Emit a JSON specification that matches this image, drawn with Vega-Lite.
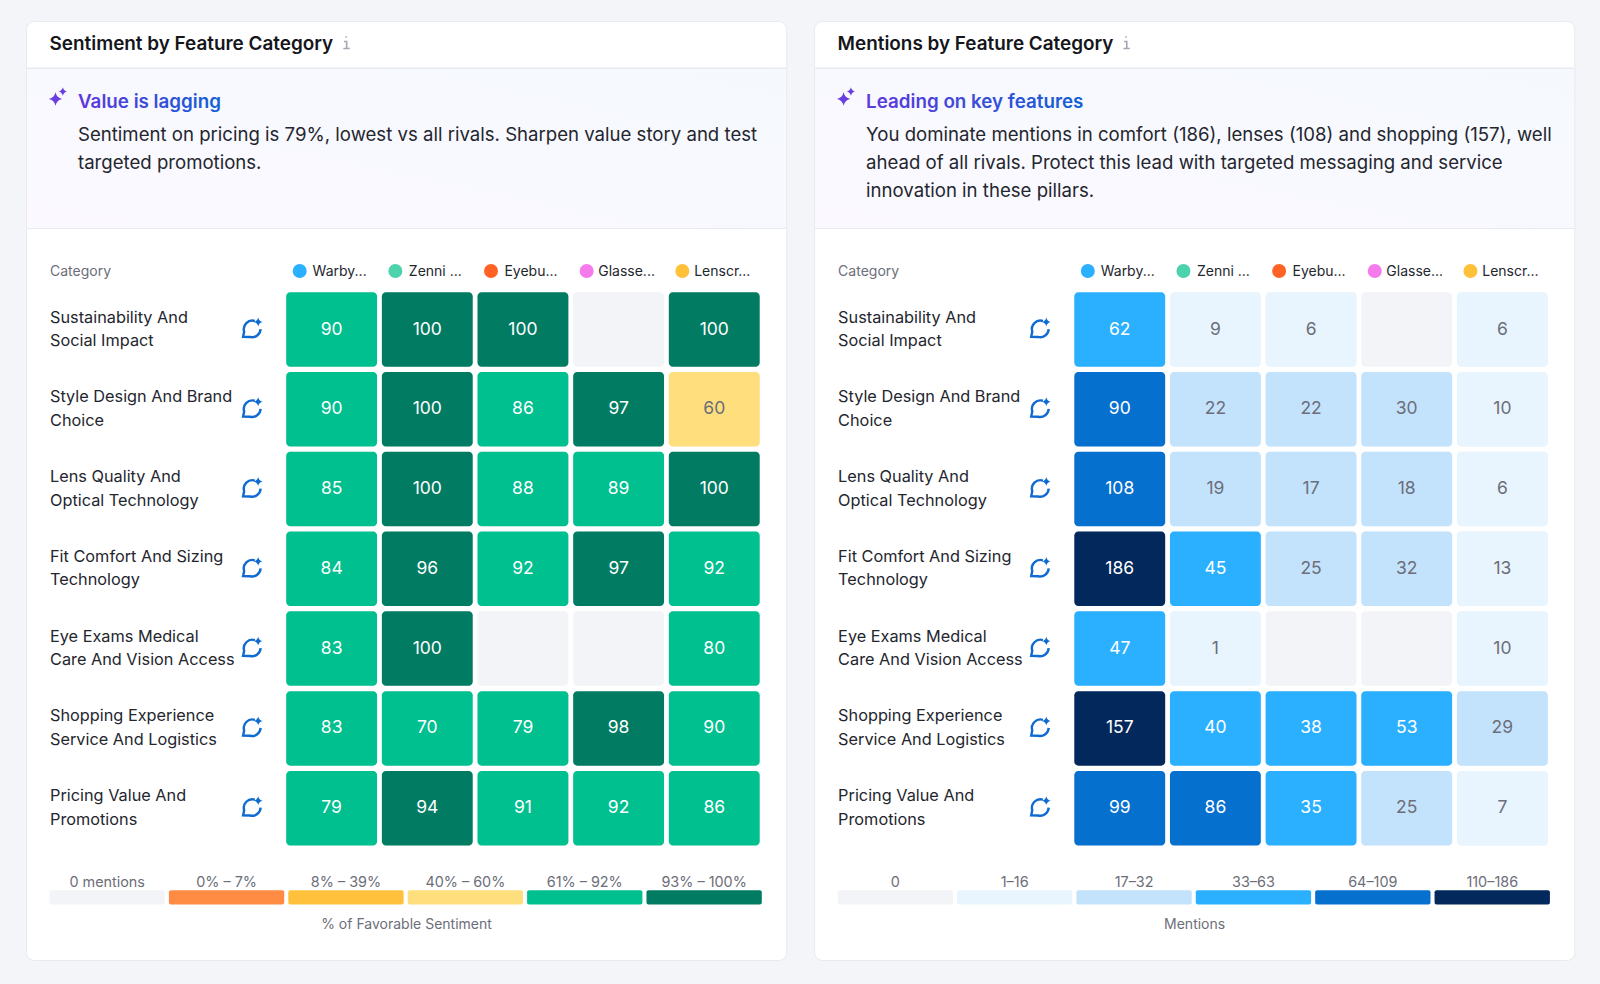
{
"$schema":"https://vega.github.io/schema/vega-lite/v6.json",
"background":"#f4f5f9",
"padding":{"left":25,"top":20,"right":27,"bottom":25},
"config":{"font":"Inter","view":{"stroke":null},"axis":{"labelFont":"Inter","titleFont":"Inter"}},
"datasets":{
"brands":[{"brand":"Warby..."},{"brand":"Zenni ..."},{"brand":"Eyebu..."},{"brand":"Glasse..."},{"brand":"Lenscr..."}],
"sent":[
{"category":"Sustainability And Social Impact","brand":"Warby...","value":90},{"category":"Sustainability And Social Impact","brand":"Zenni ...","value":100},{"category":"Sustainability And Social Impact","brand":"Eyebu...","value":100},{"category":"Sustainability And Social Impact","brand":"Glasse...","value":null},{"category":"Sustainability And Social Impact","brand":"Lenscr...","value":100},
{"category":"Style Design And Brand Choice","brand":"Warby...","value":90},{"category":"Style Design And Brand Choice","brand":"Zenni ...","value":100},{"category":"Style Design And Brand Choice","brand":"Eyebu...","value":86},{"category":"Style Design And Brand Choice","brand":"Glasse...","value":97},{"category":"Style Design And Brand Choice","brand":"Lenscr...","value":60},
{"category":"Lens Quality And Optical Technology","brand":"Warby...","value":85},{"category":"Lens Quality And Optical Technology","brand":"Zenni ...","value":100},{"category":"Lens Quality And Optical Technology","brand":"Eyebu...","value":88},{"category":"Lens Quality And Optical Technology","brand":"Glasse...","value":89},{"category":"Lens Quality And Optical Technology","brand":"Lenscr...","value":100},
{"category":"Fit Comfort And Sizing Technology","brand":"Warby...","value":84},{"category":"Fit Comfort And Sizing Technology","brand":"Zenni ...","value":96},{"category":"Fit Comfort And Sizing Technology","brand":"Eyebu...","value":92},{"category":"Fit Comfort And Sizing Technology","brand":"Glasse...","value":97},{"category":"Fit Comfort And Sizing Technology","brand":"Lenscr...","value":92},
{"category":"Eye Exams Medical Care And Vision Access","brand":"Warby...","value":83},{"category":"Eye Exams Medical Care And Vision Access","brand":"Zenni ...","value":100},{"category":"Eye Exams Medical Care And Vision Access","brand":"Eyebu...","value":null},{"category":"Eye Exams Medical Care And Vision Access","brand":"Glasse...","value":null},{"category":"Eye Exams Medical Care And Vision Access","brand":"Lenscr...","value":80},
{"category":"Shopping Experience Service And Logistics","brand":"Warby...","value":83},{"category":"Shopping Experience Service And Logistics","brand":"Zenni ...","value":70},{"category":"Shopping Experience Service And Logistics","brand":"Eyebu...","value":79},{"category":"Shopping Experience Service And Logistics","brand":"Glasse...","value":98},{"category":"Shopping Experience Service And Logistics","brand":"Lenscr...","value":90},
{"category":"Pricing Value And Promotions","brand":"Warby...","value":79},{"category":"Pricing Value And Promotions","brand":"Zenni ...","value":94},{"category":"Pricing Value And Promotions","brand":"Eyebu...","value":91},{"category":"Pricing Value And Promotions","brand":"Glasse...","value":92},{"category":"Pricing Value And Promotions","brand":"Lenscr...","value":86}],
"ment":[
{"category":"Sustainability And Social Impact","brand":"Warby...","value":62},{"category":"Sustainability And Social Impact","brand":"Zenni ...","value":9},{"category":"Sustainability And Social Impact","brand":"Eyebu...","value":6},{"category":"Sustainability And Social Impact","brand":"Glasse...","value":null},{"category":"Sustainability And Social Impact","brand":"Lenscr...","value":6},
{"category":"Style Design And Brand Choice","brand":"Warby...","value":90},{"category":"Style Design And Brand Choice","brand":"Zenni ...","value":22},{"category":"Style Design And Brand Choice","brand":"Eyebu...","value":22},{"category":"Style Design And Brand Choice","brand":"Glasse...","value":30},{"category":"Style Design And Brand Choice","brand":"Lenscr...","value":10},
{"category":"Lens Quality And Optical Technology","brand":"Warby...","value":108},{"category":"Lens Quality And Optical Technology","brand":"Zenni ...","value":19},{"category":"Lens Quality And Optical Technology","brand":"Eyebu...","value":17},{"category":"Lens Quality And Optical Technology","brand":"Glasse...","value":18},{"category":"Lens Quality And Optical Technology","brand":"Lenscr...","value":6},
{"category":"Fit Comfort And Sizing Technology","brand":"Warby...","value":186},{"category":"Fit Comfort And Sizing Technology","brand":"Zenni ...","value":45},{"category":"Fit Comfort And Sizing Technology","brand":"Eyebu...","value":25},{"category":"Fit Comfort And Sizing Technology","brand":"Glasse...","value":32},{"category":"Fit Comfort And Sizing Technology","brand":"Lenscr...","value":13},
{"category":"Eye Exams Medical Care And Vision Access","brand":"Warby...","value":47},{"category":"Eye Exams Medical Care And Vision Access","brand":"Zenni ...","value":1},{"category":"Eye Exams Medical Care And Vision Access","brand":"Eyebu...","value":null},{"category":"Eye Exams Medical Care And Vision Access","brand":"Glasse...","value":null},{"category":"Eye Exams Medical Care And Vision Access","brand":"Lenscr...","value":10},
{"category":"Shopping Experience Service And Logistics","brand":"Warby...","value":157},{"category":"Shopping Experience Service And Logistics","brand":"Zenni ...","value":40},{"category":"Shopping Experience Service And Logistics","brand":"Eyebu...","value":38},{"category":"Shopping Experience Service And Logistics","brand":"Glasse...","value":53},{"category":"Shopping Experience Service And Logistics","brand":"Lenscr...","value":29},
{"category":"Pricing Value And Promotions","brand":"Warby...","value":99},{"category":"Pricing Value And Promotions","brand":"Zenni ...","value":86},{"category":"Pricing Value And Promotions","brand":"Eyebu...","value":35},{"category":"Pricing Value And Promotions","brand":"Glasse...","value":25},{"category":"Pricing Value And Promotions","brand":"Lenscr...","value":7}],
"legS":[{"label":"0 mentions"},{"label":"0% – 7%"},{"label":"8% – 39%"},{"label":"40% – 60%"},{"label":"61% – 92%"},{"label":"93% – 100%"}],
"legM":[{"label":"0"},{"label":"1–16"},{"label":"17–32"},{"label":"33–63"},{"label":"64–109"},{"label":"110–186"}]
},
"hconcat":[
{"vconcat":[
{"width":760.2,"height":46.5,"view":{"fill":"#ffffff","stroke":"#e8eaef","cornerRadiusTopLeft":8,"cornerRadiusTopRight":8},"data":{"values":[{"title":"Sentiment by Feature Category"}]},"layer":[
{"mark":{"type":"text","align":"left","baseline":"middle","fontSize":18.9,"fontWeight":600,"color":"#14161c","x":23.5,"y":23.4},"encoding":{"text":{"field":"title"}}},
{"mark":{"type":"point","shape":"M-0.3,-0.15 L0.1,-0.15 L0.1,0.9 M-0.4,0.9 L0.55,0.9 M0,-0.95 L0,-0.7","filled":false,"stroke":"#a4a8b4","strokeWidth":1.6,"opacity":1,"size":180,"x":320,"y":21.5}}
]},
{"width":760.2,"height":160,"view":{"fill":{"gradient":"linear","x1":0,"y1":1,"x2":1,"y2":0,"stops":[{"offset":0,"color":"#fbf9ff"},{"offset":1,"color":"#f5f9fe"}]},"stroke":"#e8eaef"},"data":{"values":[{"heading":"Value is lagging"}]},"layer":[
{"mark":{"type":"point","shape":"M0,-1 Q0.18,-0.18 1,0 Q0.18,0.18 0,1 Q-0.18,0.18 -1,0 Q-0.18,-0.18 0,-1Z","filled":true,"color":"#6a3fe0","opacity":1,"size":180,"x":29.5,"y":31}},
{"mark":{"type":"point","shape":"M0,-1 Q0.18,-0.18 1,0 Q0.18,0.18 0,1 Q-0.18,0.18 -1,0 Q-0.18,-0.18 0,-1Z","filled":true,"color":"#6a3fe0","opacity":1,"size":70,"x":36.8,"y":23.5}},
{"mark":{"type":"text","align":"left","baseline":"middle","fontSize":18.8,"fontWeight":600,"x":52,"y":34,"color":{"gradient":"linear","x1":0,"y1":0,"x2":1,"y2":0,"stops":[{"offset":0,"color":"#5f38dc"},{"offset":1,"color":"#1460d4"}]}},"encoding":{"text":{"field":"heading"}}},
{"mark":{"type":"text","align":"left","baseline":"middle","fontSize":18.6,"color":"#24262e","x":52,"y":66.7,"lineHeight":28,"text":["Sentiment on pricing is 79%, lowest vs all rivals. Sharpen value story and test","targeted promotions."]}}
]},
{"width":760.2,"height":732,"view":{"fill":"#ffffff","stroke":"#e8eaef","cornerRadiusBottomLeft":8,"cornerRadiusBottomRight":8},"layer":[
{"data":{"name":"sent"},"encoding":{
"x":{"field":"brand","type":"nominal","sort":null,"scale":{"domain":["Warby...","Zenni ...","Eyebu...","Glasse...","Lenscr..."],"range":[260.2,733.7],"paddingInner":0.05,"paddingOuter":0},"axis":{"orient":"top","title":null,"domain":false,"ticks":false,"labelAngle":0,"labelPadding":-43,"labelBaseline":"middle","labelOffset":8,"labelFontSize":14,"labelColor":"#24262e","labelLimit":0,"labelOverlap":false}},
"y":{"field":"category","type":"nominal","sort":null,"scale":{"domain":["Sustainability And Social Impact","Style Design And Brand Choice","Lens Quality And Optical Technology","Fit Comfort And Sizing Technology","Eye Exams Medical Care And Vision Access","Shopping Experience Service And Logistics","Pricing Value And Promotions"],"range":[64.3,617.4],"paddingInner":0.066,"paddingOuter":0},"axis":{"orient":"left","title":"Category","titleAngle":0,"titleX":23.5,"titleY":43,"titleAlign":"left","titleBaseline":"middle","titleFontSize":14,"titleFontWeight":"normal","titleColor":"#6c6e79","domain":false,"ticks":false,"labelAlign":"left","labelBaseline":"middle","labelPadding":-23.5,"labelOffset":-12,"labelFontSize":16.3,"labelColor":"#24262e","labelLimit":0,"labelLineHeight":23.5,"labelOverlap":false,"labelExpr":"split(replace(datum.label, /\\s(Social|Choice|Optical|Technology|Care|Service|Promotions)/, '|$1'), '|')"}}},
"layer":[
{"mark":{"type":"rect","cornerRadius":4,"color":"#f3f4f8"}},
{"transform":[{"filter":"isValid(datum.value)"}],"mark":{"type":"rect","cornerRadius":4},"encoding":{"color":{"field":"value","type":"quantitative","scale":{"type":"threshold","domain":[8,40,61,93],"range":["#ff8c42","#ffc13b","#ffde7d","#00c08f","#017c63"]},"legend":null}}},
{"transform":[{"filter":"isValid(datum.value)"}],"mark":{"type":"text","fontSize":17.5,"fontWeight":400,"baseline":"middle"},"encoding":{"text":{"field":"value","type":"quantitative"},"color":{"condition":{"test":"datum.value>=61","value":"#ffffff"},"value":"#6c6e79"}}},
{"transform":[{"filter":"datum.brand==='Warby...'"}],"mark":{"type":"point","shape":"M0.3,-0.72 A0.82,0.82 0 0 0 -0.72,0.3 L-0.82,0.78 L-0.15,0.8 A0.82,0.82 0 0 0 0.85,0.05","filled":false,"stroke":"#0f6ad2","strokeWidth":2.4,"opacity":1,"size":440,"yOffset":-1},"encoding":{"x":{"value":225.7}}},
{"transform":[{"filter":"datum.brand==='Warby...'"}],"mark":{"type":"point","shape":"M0,-1 Q0.18,-0.18 1,0 Q0.18,0.18 0,1 Q-0.18,0.18 -1,0 Q-0.18,-0.18 0,-1Z","filled":true,"color":"#0f6ad2","opacity":1,"size":80,"yOffset":-7.5},"encoding":{"x":{"value":232.2}}},
{"data":{"name":"brands"},"mark":{"type":"point","filled":true,"opacity":1,"size":196},"encoding":{"y":{"value":43},"xOffset":{"value":13.5},"color":{"field":"brand","type":"nominal","sort":null,"scale":{"domain":["Warby...","Zenni ...","Eyebu...","Glasse...","Lenscr..."],"range":["#2bb0ff","#4dd2ae","#ff6224","#f57bed","#ffc03a"]},"legend":null}}}
],"resolve":{"scale":{"color":"independent"}}},
{"data":{"name":"legS"},"mark":{"type":"rect","cornerRadius":2},"encoding":{
"x":{"field":"label","type":"nominal","sort":null,"scale":{"domain":["0 mentions","0% – 7%","8% – 39%","40% – 60%","61% – 92%","93% – 100%"],"range":[23.5,735.8],"paddingInner":0.034,"paddingOuter":0},"axis":{"orient":"top","title":"% of Favorable Sentiment","titleX":380,"titleY":696,"titleAlign":"center","titleBaseline":"middle","titleFontSize":14,"titleFontWeight":"normal","titleColor":"#6c6e79","domain":false,"ticks":false,"labelAngle":0,"labelPadding":-654,"labelBaseline":"middle","labelFontSize":14.4,"labelColor":"#6c6e79","labelLimit":0,"labelOverlap":false}},
"y":{"value":662.3},"y2":{"value":676.5},
"color":{"field":"label","type":"nominal","sort":null,"scale":{"domain":["0 mentions","0% – 7%","8% – 39%","40% – 60%","61% – 92%","93% – 100%"],"range":["#f3f4f8","#ff8c42","#ffc13b","#ffde7d","#00c08f","#017c63"]},"legend":null}}}
],"resolve":{"scale":{"x":"independent","y":"independent","color":"independent"},"axis":{"x":"independent","y":"independent"}}}
],"spacing":0,"bounds":"flush"},
{"vconcat":[
{"width":760.2,"height":46.5,"view":{"fill":"#ffffff","stroke":"#e8eaef","cornerRadiusTopLeft":8,"cornerRadiusTopRight":8},"data":{"values":[{"title":"Mentions by Feature Category"}]},"layer":[
{"mark":{"type":"text","align":"left","baseline":"middle","fontSize":18.9,"fontWeight":600,"color":"#14161c","x":23.5,"y":23.4},"encoding":{"text":{"field":"title"}}},
{"mark":{"type":"point","shape":"M-0.3,-0.15 L0.1,-0.15 L0.1,0.9 M-0.4,0.9 L0.55,0.9 M0,-0.95 L0,-0.7","filled":false,"stroke":"#a4a8b4","strokeWidth":1.6,"opacity":1,"size":180,"x":312,"y":21.5}}
]},
{"width":760.2,"height":160,"view":{"fill":{"gradient":"linear","x1":0,"y1":1,"x2":1,"y2":0,"stops":[{"offset":0,"color":"#fbf9ff"},{"offset":1,"color":"#f5f9fe"}]},"stroke":"#e8eaef"},"data":{"values":[{"heading":"Leading on key features"}]},"layer":[
{"mark":{"type":"point","shape":"M0,-1 Q0.18,-0.18 1,0 Q0.18,0.18 0,1 Q-0.18,0.18 -1,0 Q-0.18,-0.18 0,-1Z","filled":true,"color":"#6a3fe0","opacity":1,"size":180,"x":29.5,"y":31}},
{"mark":{"type":"point","shape":"M0,-1 Q0.18,-0.18 1,0 Q0.18,0.18 0,1 Q-0.18,0.18 -1,0 Q-0.18,-0.18 0,-1Z","filled":true,"color":"#6a3fe0","opacity":1,"size":70,"x":36.8,"y":23.5}},
{"mark":{"type":"text","align":"left","baseline":"middle","fontSize":18.8,"fontWeight":600,"x":52,"y":34,"color":{"gradient":"linear","x1":0,"y1":0,"x2":1,"y2":0,"stops":[{"offset":0,"color":"#5f38dc"},{"offset":1,"color":"#1460d4"}]}},"encoding":{"text":{"field":"heading"}}},
{"mark":{"type":"text","align":"left","baseline":"middle","fontSize":18.6,"color":"#24262e","x":52,"y":66.7,"lineHeight":28,"text":["You dominate mentions in comfort (186), lenses (108) and shopping (157), well","ahead of all rivals. Protect this lead with targeted messaging and service","innovation in these pillars."]}}
]},
{"width":760.2,"height":732,"view":{"fill":"#ffffff","stroke":"#e8eaef","cornerRadiusBottomLeft":8,"cornerRadiusBottomRight":8},"layer":[
{"data":{"name":"ment"},"encoding":{
"x":{"field":"brand","type":"nominal","sort":null,"scale":{"domain":["Warby...","Zenni ...","Eyebu...","Glasse...","Lenscr..."],"range":[260.2,733.7],"paddingInner":0.05,"paddingOuter":0},"axis":{"orient":"top","title":null,"domain":false,"ticks":false,"labelAngle":0,"labelPadding":-43,"labelBaseline":"middle","labelOffset":8,"labelFontSize":14,"labelColor":"#24262e","labelLimit":0,"labelOverlap":false}},
"y":{"field":"category","type":"nominal","sort":null,"scale":{"domain":["Sustainability And Social Impact","Style Design And Brand Choice","Lens Quality And Optical Technology","Fit Comfort And Sizing Technology","Eye Exams Medical Care And Vision Access","Shopping Experience Service And Logistics","Pricing Value And Promotions"],"range":[64.3,617.4],"paddingInner":0.066,"paddingOuter":0},"axis":{"orient":"left","title":"Category","titleAngle":0,"titleX":23.5,"titleY":43,"titleAlign":"left","titleBaseline":"middle","titleFontSize":14,"titleFontWeight":"normal","titleColor":"#6c6e79","domain":false,"ticks":false,"labelAlign":"left","labelBaseline":"middle","labelPadding":-23.5,"labelOffset":-12,"labelFontSize":16.3,"labelColor":"#24262e","labelLimit":0,"labelLineHeight":23.5,"labelOverlap":false,"labelExpr":"split(replace(datum.label, /\\s(Social|Choice|Optical|Technology|Care|Service|Promotions)/, '|$1'), '|')"}}},
"layer":[
{"mark":{"type":"rect","cornerRadius":4,"color":"#f3f4f8"}},
{"transform":[{"filter":"isValid(datum.value)"}],"mark":{"type":"rect","cornerRadius":4},"encoding":{"color":{"field":"value","type":"quantitative","scale":{"type":"threshold","domain":[17,33,64,110],"range":["#e8f5fe","#c3e3fd","#2bb0ff","#0670cf","#02285c"]},"legend":null}}},
{"transform":[{"filter":"isValid(datum.value)"}],"mark":{"type":"text","fontSize":17.5,"fontWeight":400,"baseline":"middle"},"encoding":{"text":{"field":"value","type":"quantitative"},"color":{"condition":{"test":"datum.value>=33","value":"#ffffff"},"value":"#6c6e79"}}},
{"transform":[{"filter":"datum.brand==='Warby...'"}],"mark":{"type":"point","shape":"M0.3,-0.72 A0.82,0.82 0 0 0 -0.72,0.3 L-0.82,0.78 L-0.15,0.8 A0.82,0.82 0 0 0 0.85,0.05","filled":false,"stroke":"#0f6ad2","strokeWidth":2.4,"opacity":1,"size":440,"yOffset":-1},"encoding":{"x":{"value":225.7}}},
{"transform":[{"filter":"datum.brand==='Warby...'"}],"mark":{"type":"point","shape":"M0,-1 Q0.18,-0.18 1,0 Q0.18,0.18 0,1 Q-0.18,0.18 -1,0 Q-0.18,-0.18 0,-1Z","filled":true,"color":"#0f6ad2","opacity":1,"size":80,"yOffset":-7.5},"encoding":{"x":{"value":232.2}}},
{"data":{"name":"brands"},"mark":{"type":"point","filled":true,"opacity":1,"size":196},"encoding":{"y":{"value":43},"xOffset":{"value":13.5},"color":{"field":"brand","type":"nominal","sort":null,"scale":{"domain":["Warby...","Zenni ...","Eyebu...","Glasse...","Lenscr..."],"range":["#2bb0ff","#4dd2ae","#ff6224","#f57bed","#ffc03a"]},"legend":null}}}
],"resolve":{"scale":{"color":"independent"}}},
{"data":{"name":"legM"},"mark":{"type":"rect","cornerRadius":2},"encoding":{
"x":{"field":"label","type":"nominal","sort":null,"scale":{"domain":["0","1–16","17–32","33–63","64–109","110–186"],"range":[23.5,735.8],"paddingInner":0.034,"paddingOuter":0},"axis":{"orient":"top","title":"Mentions","titleX":380,"titleY":696,"titleAlign":"center","titleBaseline":"middle","titleFontSize":14,"titleFontWeight":"normal","titleColor":"#6c6e79","domain":false,"ticks":false,"labelAngle":0,"labelPadding":-654,"labelBaseline":"middle","labelFontSize":14.4,"labelColor":"#6c6e79","labelLimit":0,"labelOverlap":false}},
"y":{"value":662.3},"y2":{"value":676.5},
"color":{"field":"label","type":"nominal","sort":null,"scale":{"domain":["0","1–16","17–32","33–63","64–109","110–186"],"range":["#f3f4f8","#e8f5fe","#c3e3fd","#2bb0ff","#0670cf","#02285c"]},"legend":null}}}
],"resolve":{"scale":{"x":"independent","y":"independent","color":"independent"},"axis":{"x":"independent","y":"independent"}}}
],"spacing":0,"bounds":"flush"}
],"spacing":26.1
}
